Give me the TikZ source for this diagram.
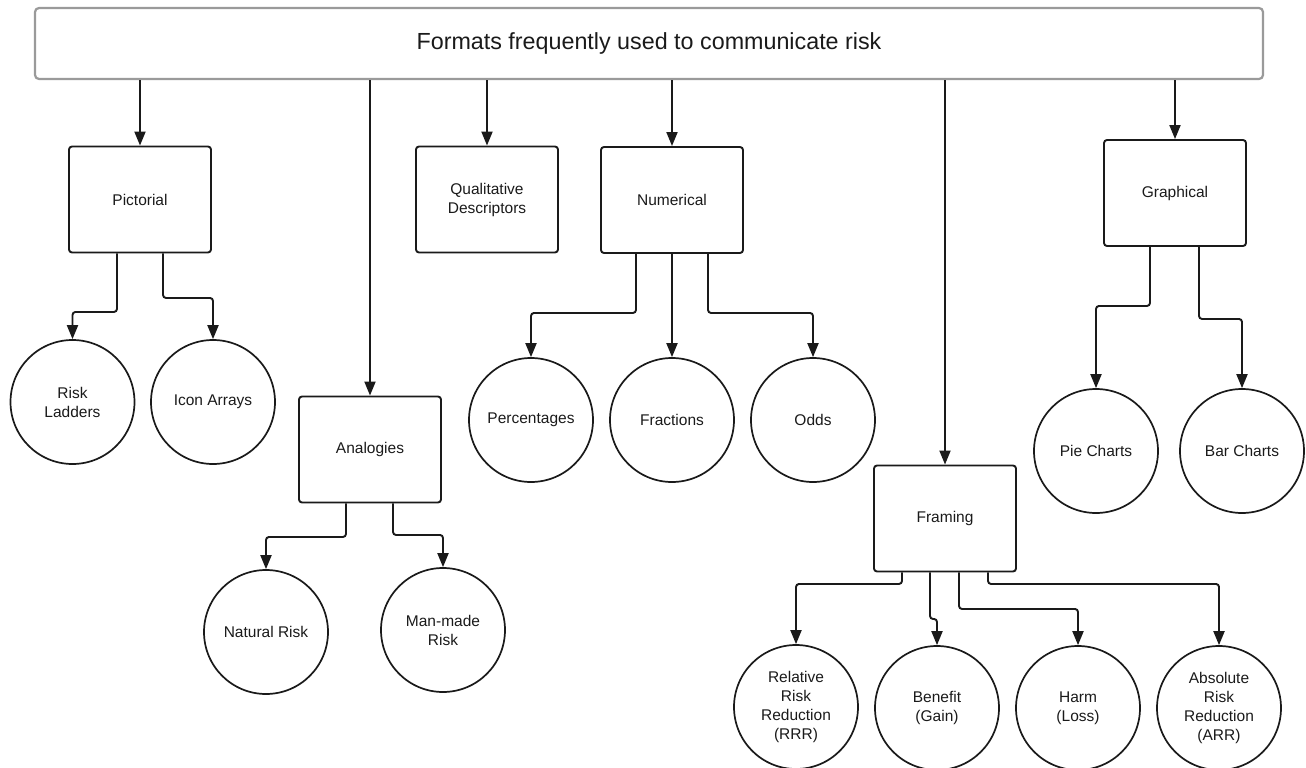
\documentclass[tikz,border=0pt]{standalone}
\usepackage{fontspec}
\setmainfont{Liberation Sans}
\usetikzlibrary{arrows.meta,calc}

\definecolor{ink}{HTML}{1A1A1A}
\definecolor{frame}{HTML}{9A9A9A}

\tikzset{
  headbox/.style={draw=frame, line width=2.2pt, rounded corners=4pt,
    minimum width=1228pt, minimum height=71pt, inner sep=0pt,
    font=\fontsize{23.3pt}{28pt}\selectfont, text=ink},
  catbox/.style={draw=ink, line width=1.9pt, rounded corners=3pt,
    minimum width=142pt, minimum height=106pt, inner sep=0pt, align=center,
    font=\fontsize{15.5pt}{19pt}\selectfont, text=ink},
  leaf/.style={circle, draw=ink, line width=1.7pt, minimum size=124pt,
    inner sep=0pt, align=center,
    font=\fontsize{15.5pt}{19pt}\selectfont, text=ink},
  conn/.style={draw=ink, line width=1.9pt, rounded corners=3pt,
    -{Triangle[length=14pt,width=11pt]}},
}

\begin{document}
\begin{tikzpicture}[x=1pt,y=-1pt]
\useasboundingbox (0,0) rectangle (1306,768);

% heading
\node[headbox] (top) at (649,43.5) {Formats frequently used to communicate risk};

% categories
\node[catbox] (pict)  at (140,199.5) {Pictorial};
\node[catbox] (qual)  at (487,199.5) {Qualitative\\Descriptors};
\node[catbox] (num)   at (672,200)   {Numerical};
\node[catbox] (anal)  at (370,449.5) {Analogies};
\node[catbox] (fram)  at (945,518.5) {Framing};
\node[catbox] (graph) at (1175,193)  {Graphical};

% leaves
\node[leaf] (ladders) at (72.5,402) {Risk\\Ladders};
\node[leaf] (icon)    at (213,402)  {Icon Arrays};
\node[leaf] (natural) at (266,632)  {Natural Risk};
\node[leaf] (manmade) at (443,630)  {Man-made\\Risk};
\node[leaf] (perc)    at (531,420)  {Percentages};
\node[leaf] (frac)    at (672,420)  {Fractions};
\node[leaf] (odds)    at (813,420)  {Odds};
\node[leaf] (pie)     at (1096,451) {Pie Charts};
\node[leaf] (bar)     at (1242,451) {Bar Charts};
\node[leaf] (rrr)     at (796,707)  {Relative\\Risk\\Reduction\\(RRR)};
\node[leaf] (benefit) at (937,708)  {Benefit\\(Gain)};
\node[leaf] (harm)    at (1078,708) {Harm\\(Loss)};
\node[leaf] (arr)     at (1219,708) {Absolute\\Risk\\Reduction\\(ARR)};

% heading to categories
\foreach \c in {pict,qual,num,anal,fram,graph}
  \draw[conn] (top.south -| \c.north) -- (\c.north);

% pictorial
\draw[conn] ([xshift=-23pt]pict.south) -- ++(0,58.5) -| (ladders.north);
\draw[conn] ([xshift=23pt]pict.south)  -- ++(0,44.5) -| (icon.north);

% analogies
\draw[conn] ([xshift=-24pt]anal.south) -- ++(0,33.5) -| (natural.north);
\draw[conn] ([xshift=23pt]anal.south)  -- ++(0,31.5) -| (manmade.north);

% numerical
\draw[conn] ([xshift=-36pt]num.south) -- ++(0,59) -| (perc.north);
\draw[conn] (num.south) -- (frac.north);
\draw[conn] ([xshift=36pt]num.south)  -- ++(0,59) -| (odds.north);

% graphical
\draw[conn] ([xshift=-25pt]graph.south) -- ++(0,59) -| (pie.north);
\draw[conn] ([xshift=24pt]graph.south)  -- ++(0,72) -| (bar.north);

% framing
\draw[conn] ([xshift=-43pt]fram.south) -- ++(0,11.5) -| (rrr.north);
\draw[conn] ([xshift=-15pt]fram.south) -- ++(0,46.5) -| (benefit.north);
\draw[conn] ([xshift=14pt]fram.south)  -- ++(0,36.5) -| (harm.north);
\draw[conn] ([xshift=43pt]fram.south)  -- ++(0,11.5) -| (arr.north);
\end{tikzpicture}
\end{document}
